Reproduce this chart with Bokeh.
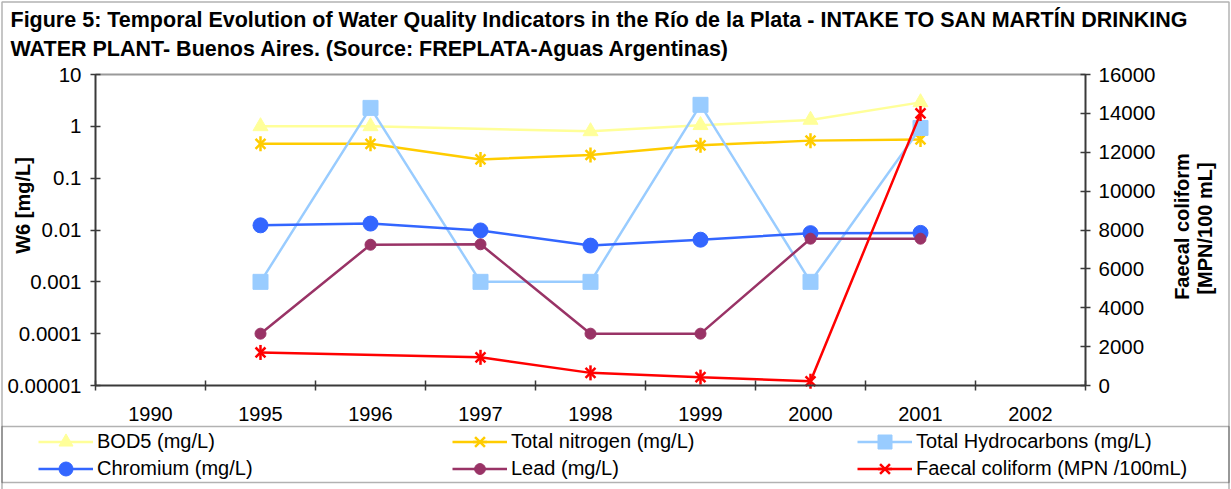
import math
from bokeh.plotting import figure
from bokeh.models import (Range1d, LinearAxis, LinearScale, FixedTicker, Label, Legend,
                          LegendItem, BoxAnnotation)
from bokeh.embed import file_html
from bokeh.resources import INLINE

# ---------------- data ----------------
title_line1 = "Figure 5: Temporal Evolution of Water Quality Indicators in the Río de la Plata - INTAKE TO SAN MARTÍN DRINKING"
title_line2 = "WATER PLANT- Buenos Aires. (Source: FREPLATA-Aguas Argentinas)"
left_axis_title = "W6 [mg/L]"
right_axis_title1 = "Faecal coliform"
right_axis_title2 = "[MPN/100 mL]"

x_categories = ["1990", "1995", "1996", "1997", "1998", "1999", "2000", "2001", "2002"]
sample_years = ["1995", "1996", "1997", "1998", "1999", "2000", "2001"]

bod5 = [1.0, 1.0, None, 0.8, 1.05, 1.33, 2.9]
total_nitrogen = [0.46, 0.46, 0.23, 0.28, 0.43, 0.53, 0.56]
total_hydrocarbons = [0.001, 2.27, 0.001, 0.001, 2.6, 0.001, 0.93]
chromium = [0.0123, 0.0133, 0.0098, 0.005, 0.0065, 0.0087, 0.0088]
lead = [0.0001, 0.0052, 0.0053, 0.0001, 0.0001, 0.0068, 0.0068]
faecal_coliform = [1700, None, 1450, 650, 430, 220, 14000]

left_tick_labels = ["0.00001", "0.0001", "0.001", "0.01", "0.1", "1", "10"]
right_tick_values = [0, 2000, 4000, 6000, 8000, 10000, 12000, 14000, 16000]

legend_labels = ["BOD5 (mg/L)", "Total nitrogen (mg/L)", "Total Hydrocarbons (mg/L)",
                 "Chromium (mg/L)", "Lead (mg/L)", "Faecal coliform (MPN /100mL)"]

FONT = "Liberation Sans"

# ---------------- layout (canvas pixels, origin top-left) ----------------
W, H = 1231, 489
PL, PR, PT, PB = 95, 1085, 74, 385          # plot area edges

n_cat = len(x_categories)
left_vals = [float(s) for s in left_tick_labels]
lo_dec, hi_dec = math.log10(left_vals[0]), math.log10(left_vals[-1])
px_per_dec = (PB - PT) / (hi_dec - lo_dec)
px_per_cat = (PR - PL) / n_cat
fc_lo, fc_hi = right_tick_values[0], right_tick_values[-1]
fc_per_px = (fc_hi - fc_lo) / (PB - PT)

x_range = Range1d(-PL / px_per_cat, n_cat + (W - PR) / px_per_cat)
y_range = Range1d(10 ** (lo_dec - (H - PB) / px_per_dec), 10 ** (hi_dec + PT / px_per_dec))

p = figure(width=W, height=H, x_range=x_range, y_range=y_range, y_axis_type="log",
           min_border=0, output_backend="svg", toolbar_location=None)
p.min_border_left = p.min_border_right = p.min_border_top = p.min_border_bottom = 0
p.outline_line_color = None
p.xgrid.visible = False
p.ygrid.visible = False
p.background_fill_color = "white"
p.border_fill_color = "white"

p.extra_y_ranges = {"fc": Range1d(fc_lo - (H - PB) * fc_per_px, fc_hi + PT * fc_per_px)}
p.extra_y_scales = {"fc": LinearScale()}

AX_COLOR = "#3a3a3a"

# x axis: labels at category centres, ticks at category boundaries
centres = [i + 0.5 for i in range(n_cat)]
xa = p.xaxis[0]
xa.fixed_location = left_vals[0]
xa.bounds = (0, n_cat)
xa.ticker = FixedTicker(ticks=centres, minor_ticks=list(range(n_cat + 1)))
xa.major_label_overrides = {c: lab for c, lab in zip(centres, x_categories)}
xa.major_tick_in = 0
xa.major_tick_out = 0
xa.minor_tick_in = 5
xa.minor_tick_out = 5
xa.minor_tick_line_color = AX_COLOR
xa.minor_tick_line_width = 1.5
xa.axis_line_color = AX_COLOR
xa.axis_line_width = 2
xa.major_label_standoff = 16
xa.major_label_text_font = FONT
xa.major_label_text_font_size = "20px"
xa.major_label_text_color = "black"

# left log axis
ya = p.yaxis[0]
ya.fixed_location = 0
ya.bounds = (left_vals[0], left_vals[-1])
ya.ticker = FixedTicker(ticks=left_vals, minor_ticks=[])
ya.major_label_overrides = {v: s for v, s in zip(left_vals, left_tick_labels)}
ya.major_tick_in = 5
ya.major_tick_out = 5
ya.minor_tick_line_color = None
ya.major_tick_line_color = AX_COLOR
ya.major_tick_line_width = 1.5
ya.axis_line_color = AX_COLOR
ya.axis_line_width = 2
ya.major_label_standoff = 9
ya.major_label_text_font = FONT
ya.major_label_text_font_size = "20.5px"
ya.major_label_text_color = "black"

# right linear axis
ra = LinearAxis(y_range_name="fc", fixed_location=n_cat, bounds=(fc_lo, fc_hi),
                ticker=FixedTicker(ticks=right_tick_values, minor_ticks=[]))
ra.major_tick_in = 5
ra.major_tick_out = 5
ra.minor_tick_line_color = None
ra.major_tick_line_color = AX_COLOR
ra.major_tick_line_width = 1.5
ra.axis_line_color = AX_COLOR
ra.axis_line_width = 2
ra.major_label_standoff = 8
ra.major_label_text_font = FONT
ra.major_label_text_font_size = "20.5px"
ra.major_label_text_color = "black"
p.add_layout(ra, "right")

# top border of the plot area (gray)
ta = LinearAxis(fixed_location=left_vals[-1], bounds=(0, n_cat),
                ticker=FixedTicker(ticks=[], minor_ticks=[]))
ta.axis_line_color = "#9a9a9a"
ta.axis_line_width = 2
ta.major_tick_line_color = None
ta.minor_tick_line_color = None
ta.major_label_text_alpha = 0
p.add_layout(ta, "above")


def pts(values):
    xs, ys = [], []
    for yr, v in zip(sample_years, values):
        if v is not None:
            xs.append(x_categories.index(yr) + 0.5)
            ys.append(v)
    return xs, ys


LW = 2.5
rend = {}

# BOD5
xs, ys = pts(bod5)
c = "#FFFF99"
rend[0] = [p.line(xs, ys, line_color=c, line_width=LW),
           p.scatter(xs, ys, marker="triangle", size=15, fill_color=c, line_color=c)]

# Total nitrogen
xs, ys = pts(total_nitrogen)
c = "#FFCC00"
rend[1] = [p.line(xs, ys, line_color=c, line_width=LW),
           p.scatter(xs, ys, marker="x", size=14, line_color=c, line_width=2.5),
           p.scatter(xs, ys, marker="dash", size=15, angle=math.pi / 2, line_color=c, line_width=2.5)]

# Total hydrocarbons
xs, ys = pts(total_hydrocarbons)
c = "#99CCFF"
rend[2] = [p.line(xs, ys, line_color=c, line_width=LW),
           p.scatter(xs, ys, marker="square", size=15, fill_color=c, line_color=c)]

# Chromium
xs, ys = pts(chromium)
c = "#3366FF"
rend[3] = [p.line(xs, ys, line_color=c, line_width=LW),
           p.scatter(xs, ys, marker="circle", size=15, fill_color=c, line_color=c)]

# Lead
xs, ys = pts(lead)
c = "#993366"
rend[4] = [p.line(xs, ys, line_color=c, line_width=LW),
           p.scatter(xs, ys, marker="circle", size=11, fill_color=c, line_color=c)]

# Faecal coliform (right axis)
xs, ys = pts(faecal_coliform)
c = "#FF0000"
rend[5] = [p.line(xs, ys, line_color=c, line_width=LW, y_range_name="fc"),
           p.scatter(xs, ys, marker="x", size=14, line_color=c, line_width=2.5, y_range_name="fc"),
           p.scatter(xs, ys, marker="dash", size=15, angle=math.pi / 2, line_color=c,
                     line_width=2.5, y_range_name="fc")]

# ---------------- legend ----------------
col_left = [38, 452, 857]
row_centre = [441, 468]
glyph_h = [35, 35, 35, 35, 27, 35]
for i, lab in enumerate(legend_labels):
    col = i % 3
    row = i // 3
    gh = glyph_h[i]
    lx = col_left[col]
    ly = H - (row_centre[row] + gh / 2)
    lg = Legend(items=[LegendItem(label=lab, renderers=rend[i])], location=(lx, ly),
                glyph_width=55, glyph_height=gh, label_height=20, label_standoff=4,
                padding=0, margin=0, spacing=0, border_line_color=None,
                background_fill_alpha=0, label_text_font=FONT, label_text_font_size="20px",
                label_text_color="black")
    p.add_layout(lg)

# ---------------- frame lines ----------------
p.add_layout(BoxAnnotation(left=1.5, right=W - 2.5, top=H - 1.5, bottom=-5,
                           left_units="screen", right_units="screen",
                           top_units="screen", bottom_units="screen",
                           fill_alpha=0, line_color="black", line_width=1.5))
p.add_layout(BoxAnnotation(left=1.5, right=W - 2.5, top=H - 426, bottom=H - 482,
                           left_units="screen", right_units="screen",
                           top_units="screen", bottom_units="screen",
                           fill_alpha=0, line_color="black", line_width=1.5))

# ---------------- texts ----------------
for txt, ty in ((title_line1, 19), (title_line2, 48)):
    p.add_layout(Label(x=10, y=H - ty, x_units="screen", y_units="screen",
                       text=txt, text_font=FONT, text_font_style="bold",
                       text_color="black", text_font_size="21.5px",
                       text_baseline="middle", text_align="left"))
for txt, tx, ty in ((left_axis_title, 22, 205), (right_axis_title1, 1181, 226),
                    (right_axis_title2, 1204, 228)):
    p.add_layout(Label(x=tx, y=H - ty, x_units="screen", y_units="screen",
                       text=txt, angle=math.pi / 2, text_font=FONT, text_color="black",
                       text_font_style="bold", text_font_size="20px",
                       text_align="center", text_baseline="middle"))

open("out.html", "w").write(file_html(p, INLINE))
